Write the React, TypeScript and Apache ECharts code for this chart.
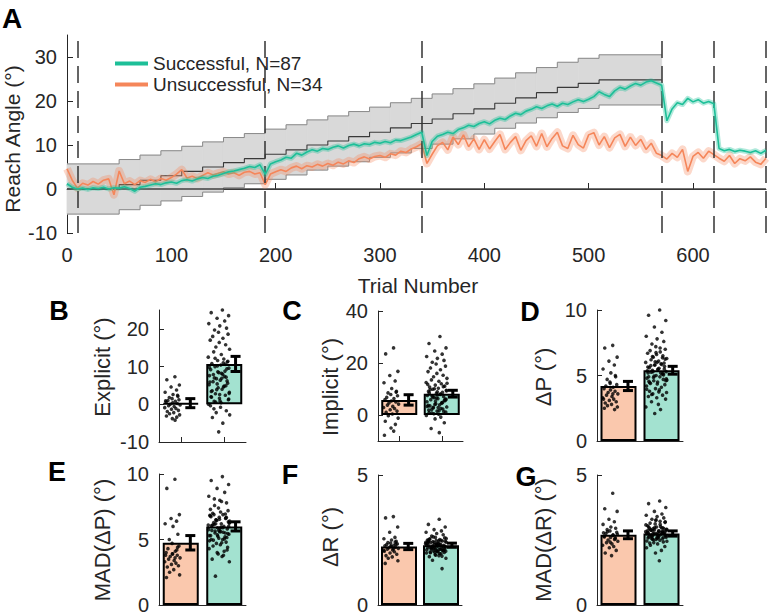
import React, { useEffect, useRef } from 'react';
import * as echarts from 'echarts';

const FONT = '"Liberation Sans", Arial, Helvetica, sans-serif';
const GREEN = '#1dbf98';
const ORANGE = '#f5865a';
const GREEN_LIGHT = '#a3e2d0';
const ORANGE_LIGHT = '#fac8ad';
const AXIS = '#262626';

// ---------- Panel A ----------
const trialStep = 5;
const successful = [
  1.2, 0.4, 0.0, 0.2, -0.1, 0.3, 0.1, 0.4, 0.0, 0.3,
  0.2, 0.5, 0.1, -0.5, 0.4, 0.6, 0.9, 1.2, 1.0, 1.4,
  1.6, 1.3, 1.9, 2.1, 1.8, 2.3, 2.6, 2.4, 2.9, 3.1,
  3.5, 3.9, 4.1, 4.4, 4.7, 5.1, 4.9, 5.5, 3.3, 5.7,
  6.2, 6.6, 7.2, 7.0, 8.1, 7.7, 8.4, 8.9, 8.6, 9.2,
  9.0, 9.5, 9.8, 9.3, 9.9, 10.2, 9.8, 10.3, 10.1, 10.6,
  10.4, 10.8, 10.5, 11.1, 11.0, 11.4, 11.8, 12.4, 12.9, 7.6,
  10.8, 12.0, 12.4, 12.9, 12.6, 13.5, 13.9, 14.5, 14.2, 14.9,
  15.3, 14.8, 15.6, 16.1, 15.8, 16.6, 17.2, 16.9, 17.7, 18.1,
  18.7, 18.3, 18.9, 19.3, 18.8, 19.5, 19.2, 19.8, 20.3, 19.9,
  20.4, 21.0, 22.1, 21.5, 21.0, 22.3, 23.1, 22.7, 23.4, 24.0,
  23.6, 24.3, 24.6, 24.1, 23.6, 15.5, 18.2, 19.6, 19.2, 20.6,
  19.8, 20.3, 19.5, 19.9, 19.4, 9.2, 8.7, 9.0, 8.5, 8.8,
  8.6, 8.3, 8.7, 8.1, 8.8,
];
const unsuccessful = [
  4.6, 2.0, 0.2, 1.3, 0.9, 1.7, 1.1, 2.0, 2.3, -1.3,
  4.1, 1.2, 1.8, 1.0, 1.9, 1.5, 2.2, 1.6, 2.4, 2.0,
  2.6, 3.4, 4.4, 2.5, 2.9, 2.4, 3.1, 3.7, 3.2, 3.6,
  3.9, 3.4, 3.7, 3.1, 3.8, 4.0, 3.4, 3.7, 1.0, 3.4,
  3.9, 4.4, 4.0, 4.8, 5.2, 4.6, 5.3, 5.0, 5.6, 5.2,
  5.8, 5.4, 6.1, 5.7, 6.4, 6.0, 6.9, 7.3, 6.8, 7.4,
  7.6, 7.2, 8.0, 7.7, 8.6, 8.3, 9.1, 9.6, 10.3, 5.8,
  7.9, 9.8, 10.6, 8.9, 11.8, 10.1, 12.3, 9.6, 11.4, 9.0,
  11.2, 9.1, 10.8, 12.4, 9.0, 10.6, 11.9, 8.8, 11.0, 12.1,
  9.7, 12.6, 9.6, 11.5, 12.9, 9.8, 9.2, 12.2, 10.1, 9.3,
  12.3, 12.8, 10.0, 11.9, 9.4, 11.6, 12.4, 9.7, 11.8, 9.9,
  11.3, 9.0, 10.4, 8.1, 7.6, 6.8, 8.1, 7.2, 9.0, 4.0,
  7.4, 8.3, 7.0, 8.6, 7.8, 7.0, 6.3, 7.6, 5.8, 6.9,
  6.4, 7.3, 6.1, 5.6, 7.0,
];
const stepTrials = [0, 50, 70, 90, 110, 130, 150, 170, 190, 210, 230, 250, 270, 290, 310, 330, 350, 370, 390, 410, 430, 450, 470, 490, 510, 570];
const targetCenter = [0, 1, 2, 3, 4, 5, 6, 6.9, 7.9, 8.9, 10, 10.9, 11.9, 12.9, 13.9, 14.9, 15.9, 17.1, 18.2, 19.5, 20.7, 21.9, 23.1, 24.0, 24.8, 24.8];
const bandUpper = [5.7, 6.7, 7.7, 8.7, 9.7, 10.7, 11.7, 12.6, 13.6, 14.6, 15.7, 16.6, 17.6, 18.6, 19.6, 20.6, 21.6, 22.8, 23.9, 25.2, 26.4, 27.6, 28.8, 29.7, 30.5, 30.5];
const bandLower = [-5.7, -4.7, -3.7, -2.7, -1.7, -0.7, 0.3, 1.2, 2.2, 3.2, 4.3, 5.2, 6.2, 7.2, 8.2, 9.2, 10.2, 11.4, 12.5, 13.8, 15.0, 16.2, 17.4, 18.3, 19.1, 19.1];
const dashTrials = [10, 190, 340, 570, 620, 670];
const xTicksA = [0, 100, 200, 300, 400, 500, 600];
const yTicksA = [-10, 0, 10, 20, 30];

// ---------- Bar panels ----------
const jitter = [0.31, -0.72, 0.88, -0.18, 0.52, -0.94, 0.07, 0.69, -0.41, -0.05, 0.83, -0.58, 0.36, -0.81, 0.02, 0.61, -0.29, 0.97, -0.49, 0.21, -0.99, 0.44, -0.13, 0.76, -0.66, 0.16, -0.37, 0.91, -0.77, 0.55, -0.02, 0.33, -0.88, 0.65,
  -0.24, 0.12, -0.55, 0.79, -0.91, 0.47, -0.08, 0.28, -0.63, 0.95, -0.33, 0.58, -0.74, 0.04, 0.86, -0.45, 0.19, -0.97, 0.39, -0.15, 0.72, -0.52, 0.25, -0.84, 0.63, -0.21, 0.93, -0.69, 0.09, -0.36, 0.81, -0.11, 0.49, -0.79, 0.14, -0.47, 0.67, -0.26, 0.98, -0.61, 0.35, -0.03, 0.57, -0.89, 0.23, -0.43, 0.74, -0.17, 0.41, -0.71, 0.06, 0.89, -0.31];

const explicitUns = [7.3, 6.5, 5.1, 4.6, 3.8, 3.2, 2.6, 2.1, 1.8, 1.5, 1.2, 1.0, 0.8, 0.6, 0.4, 0.2, 0.0, -0.2, -0.4, -0.6, -0.9, -1.1, -1.3, -1.6, -1.9, -2.2, -2.5, -2.8, -3.1, -3.4, -3.8, -4.2, 0.9, 2.4];
const explicitSuc = [25, 24.3, 23.5, 22.8, 22.1, 21.4, 20.8, 20.2, 19.7, 19.1, 18.6, 18.0, 17.5, 17.0, 16.4, 15.8, 15.2, 14.6, 13.9, 13.2,
  12.5, 12.0, 11.6, 11.2, 10.8, 10.4, 10.0, 9.6, 9.2, 8.8, 8.4, 8.0, 7.6, 7.2, 6.8, 6.4, 6.0, 5.6, 5.2, 4.8, 4.4, 4.0, 3.6, 3.2, 2.8, 2.4, 2.0, 1.6, 1.2, 0.8, 0.4, 0.0,
  11.0, 10.2, 9.4, 7.9, 6.9, 5.9, 4.9, 3.9, 2.9, 1.9, 0.9, 12.2, 11.4, 8.6, 7.4,
  -0.4, -0.8, -1.2, -1.7, -2.2, -2.8, -3.5, -5.0, -7.3,
  10.6, 9.8, 8.2, 7.0, 6.2, 5.4, 4.6, 3.4, 2.6, 1.4, 0.6];
const implicitUns = [25.8, 23.5, 16.8, 15.2, 13.1, 12.4, 10.2, 9.1, 8.5, 7.9, 7.4, 6.8, 6.3, 5.9, 5.4, 5.0, 4.6, 4.2, 3.8, 3.3, 2.9, 2.5, 2.0, 1.5, 1.0, 0.4, -0.3, -1.2, -2.4, -3.6, -5.0, -6.2, -7.8, 8.8];
const implicitSuc = [30.2, 27.5, 25.8, 24.6, 23.4, 22.5, 21.8, 21.0, 20.3, 19.6, 18.8, 18.1, 17.4, 16.7, 16.0, 15.3, 14.7, 14.1, 13.5, 13.0,
  12.5, 12.0, 11.5, 11.1, 10.7, 10.3, 9.9, 9.5, 9.1, 8.7, 8.3, 7.9, 7.5, 7.1, 6.7, 6.3, 5.9, 5.5, 5.1, 4.7, 4.3, 3.9, 3.5, 3.1, 2.7, 2.3, 1.9, 1.5, 1.1, 0.7, 0.3,
  -0.2, -0.8, -1.5, -3.0, -5.2, -6.8, 11.8, 10.9, 10.1, 9.3, 8.5, 7.7, 6.9, 6.1, 5.3, 4.5, 3.7, 2.9, 2.1, 1.3, 0.5,
  12.2, 9.7, 8.1, 6.5, 4.9, 3.3, 1.7, 7.3, 5.7, 4.1, 2.5, 0.9, 8.9, 6.0, 3.0];
const dPUns = [7.3, 7.1, 6.4, 6.1, 5.8, 5.5, 5.2, 4.9, 4.7, 4.5, 4.3, 4.2, 4.1, 4.0, 3.9, 3.8, 3.7, 3.6, 3.5, 3.4, 3.3, 3.2, 3.1, 3.0, 2.9, 2.8, 2.7, 2.6, 2.5, 2.4, 4.4, 3.6, 3.2, 5.0];
const dPSuc = [10.0, 9.6, 9.2, 8.7, 8.3, 8.0, 7.8, 7.6, 7.4, 7.2, 7.0, 6.9, 6.8, 6.7, 6.6, 6.5, 6.4, 6.3, 6.2, 6.1, 6.0, 5.9, 5.8, 5.7, 5.6, 5.5, 5.4, 5.3, 5.2, 5.1,
  5.0, 4.9, 4.8, 4.7, 4.6, 4.5, 4.4, 4.3, 4.2, 4.1, 4.0, 3.9, 3.8, 3.7, 3.6, 3.5, 3.4, 3.3, 3.2, 3.0, 2.8, 2.6, 2.4, 2.1,
  5.95, 5.75, 5.55, 5.35, 5.15, 4.95, 4.75, 4.55, 4.35, 6.45, 6.25, 6.05, 5.85, 5.65, 5.45, 5.25, 5.05, 4.85, 4.65, 4.45,
  7.1, 6.75, 6.35, 3.95, 3.75, 3.55, 5.5, 5.8, 5.2, 4.9, 6.0, 4.6, 5.3];
const madPUns = [9.6, 8.9, 6.9, 6.6, 6.4, 6.2, 6.0, 5.4, 5.0, 4.7, 4.5, 4.3, 4.1, 4.0, 3.9, 3.8, 3.7, 3.6, 3.5, 3.4, 3.3, 3.2, 3.1, 3.0, 2.9, 2.7, 2.5, 2.3, 2.1, 4.2, 3.9, 3.6, 3.8, 4.4];
const madPSuc = [9.8, 9.5, 9.2, 8.9, 8.6, 8.3, 8.0, 7.8, 7.6, 7.4, 7.2, 7.0, 6.9, 6.8, 6.7, 6.6, 6.5, 6.4, 6.3, 6.2, 6.1, 6.0, 5.9, 5.8, 5.7, 5.6, 5.5, 5.4, 5.3, 5.2,
  5.1, 5.0, 4.9, 4.8, 4.7, 4.6, 4.5, 4.4, 4.3, 4.1, 3.9, 3.7, 3.5, 3.3, 2.2,
  6.95, 6.75, 6.55, 6.35, 6.15, 5.95, 5.75, 5.55, 5.35, 5.15, 4.95, 4.75, 6.85, 6.65, 6.45, 6.25, 6.05, 5.85, 5.65, 5.45, 5.25, 5.05,
  7.3, 7.1, 6.9, 6.7, 6.5, 6.3, 6.1, 5.9, 5.7, 5.5, 5.3, 7.9, 8.1, 4.2, 4.0, 3.8, 5.0, 5.6, 6.0, 6.2];
const dRUns = [3.4, 3.35, 3.0, 2.8, 2.6, 2.55, 2.5, 2.45, 2.4, 2.38, 2.35, 2.32, 2.3, 2.28, 2.25, 2.22, 2.2, 2.18, 2.15, 2.12, 2.1, 2.05, 2.0, 1.95, 1.9, 1.85, 1.8, 1.7, 1.6, 2.42, 2.27, 2.17, 2.07, 2.33];
const dRSuc = [3.3, 3.1, 3.0, 2.9, 2.85, 2.8, 2.75, 2.7, 2.65, 2.6, 2.58, 2.55, 2.52, 2.5, 2.48, 2.46, 2.44, 2.42, 2.4, 2.38, 2.36, 2.34, 2.32, 2.3, 2.28,
  2.26, 2.24, 2.22, 2.2, 2.18, 2.16, 2.14, 2.12, 2.1, 2.08, 2.06, 2.04, 2.02, 2.0, 1.97, 1.94, 1.9, 1.86, 1.8, 1.72, 1.4,
  2.45, 2.35, 2.25, 2.15, 2.05, 2.41, 2.31, 2.21, 2.11, 2.01, 2.47, 2.37, 2.27, 2.17, 2.07, 2.43, 2.33, 2.23, 2.13, 2.03, 2.49, 2.39, 2.29, 2.19, 2.09,
  2.62, 2.56, 2.53, 1.98, 1.92, 1.88, 2.3, 2.35, 2.2, 2.25, 2.4, 2.15, 2.5, 2.1, 2.45, 2.28];
const madRUns = [4.3, 3.7, 3.6, 3.3, 3.2, 3.1, 3.0, 2.95, 2.9, 2.85, 2.8, 2.75, 2.7, 2.65, 2.6, 2.55, 2.5, 2.45, 2.4, 2.35, 2.3, 2.25, 2.2, 2.1, 2.0, 1.9, 2.82, 2.72, 2.62, 2.52, 2.42, 2.68, 2.78, 2.58];
const madRSuc = [4.0, 3.9, 3.75, 3.6, 3.5, 3.45, 3.4, 3.35, 3.3, 3.25, 3.2, 3.15, 3.1, 3.05, 3.0, 2.97, 2.94, 2.91, 2.88, 2.85, 2.82, 2.79, 2.76, 2.73, 2.7,
  2.67, 2.64, 2.61, 2.58, 2.55, 2.52, 2.49, 2.46, 2.43, 2.4, 2.35, 2.3, 2.25, 2.2, 2.1, 2.0, 1.7,
  2.95, 2.9, 2.86, 2.81, 2.77, 2.72, 2.68, 2.63, 2.59, 3.08, 3.02, 2.98, 2.93, 2.89, 2.84, 2.8, 2.75, 2.71, 2.66, 2.62, 2.57, 2.53,
  3.18, 3.12, 2.96, 2.87, 2.78, 2.69, 2.6, 2.51, 2.45, 2.38, 3.22, 3.28, 2.83, 2.74, 2.65, 2.56, 2.8, 2.9, 2.7, 3.0, 2.6, 2.85, 2.75];

// bar means [unsuccessful, successful] and SEM
const explicitMean = [0.3, 10.7];
const explicitSem = [1.2, 2.0];
const implicitMean = [5.8, 8.2];
const implicitSem = [2.0, 1.3];
const dPMean = [4.2, 5.4];
const dPSem = [0.35, 0.3];
const madPMean = [4.75, 6.0];
const madPSem = [0.55, 0.35];
const dRMean = [2.25, 2.3];
const dRSem = [0.12, 0.08];
const madRMean = [2.7, 2.75];
const madRSem = [0.15, 0.1];

const panels = [
  { letter: 'B', title: 'Explicit (°)', uns: explicitUns, suc: explicitSuc, mean: explicitMean, sem: explicitSem, min: -10, max: 25, ticks: [-10, 0, 10, 20],
    grid: { left: 159, top: 310, width: 87, height: 132 }, letterPos: [59, 311], titlePos: [102, 367] },
  { letter: 'C', title: 'Implicit (°)', uns: implicitUns, suc: implicitSuc, mean: implicitMean, sem: implicitSem, min: -10, max: 40, ticks: [0, 20, 40],
    grid: { left: 378, top: 311, width: 85, height: 130 }, letterPos: [292, 311], titlePos: [330, 387] },
  { letter: 'D', title: 'ΔP (°)', uns: dPUns, suc: dPSuc, mean: dPMean, sem: dPSem, min: 0, max: 10, ticks: [0, 5, 10],
    grid: { left: 597, top: 310, width: 86, height: 131 }, letterPos: [530, 312], titlePos: [543, 377] },
  { letter: 'E', title: 'MAD(ΔP) (°)', uns: madPUns, suc: madPSuc, mean: madPMean, sem: madPSem, min: 0, max: 10, ticks: [0, 5, 10],
    grid: { left: 159, top: 474, width: 87, height: 131 }, letterPos: [57, 472], titlePos: [102, 540] },
  { letter: 'F', title: 'ΔR (°)', uns: dRUns, suc: dRSuc, mean: dRMean, sem: dRSem, min: 0, max: 5, ticks: [0, 5],
    grid: { left: 378, top: 475, width: 84, height: 130 }, letterPos: [290, 475], titlePos: [330, 537] },
  { letter: 'G', title: 'MAD(ΔR) (°)', uns: madRUns, suc: madRSuc, mean: madRMean, sem: madRSem, min: 0, max: 5, ticks: [0, 5],
    grid: { left: 597, top: 475, width: 86, height: 130 }, letterPos: [526, 477], titlePos: [543, 540] },
];

function buildOption() {
  const trials = successful.map((_, i) => i * trialStep);
  const grids: any[] = [{ left: 67, top: 35, width: 699, height: 198 }];
  const xAxes: any[] = [{
    gridIndex: 0, type: 'value', min: 0, max: 670,
    axisLine: { show: true, lineStyle: { color: AXIS, width: 1 } },
    axisTick: { show: true, inside: true, length: 6, customValues: xTicksA, lineStyle: { color: AXIS } },
    axisLabel: { customValues: xTicksA, fontSize: 20, color: AXIS, margin: 12, fontFamily: FONT },
    splitLine: { show: false },
  }];
  const yAxes: any[] = [{
    gridIndex: 0, type: 'value', min: -10, max: 35,
    axisLine: { show: true, lineStyle: { color: AXIS, width: 1 } },
    axisTick: { show: true, inside: true, length: 6, customValues: yTicksA, lineStyle: { color: AXIS } },
    axisLabel: { customValues: yTicksA, fontSize: 20, color: AXIS, margin: 10, fontFamily: FONT },
    splitLine: { show: false },
  }];
  const series: any[] = [];

  // target band: one rectangle per staircase segment
  series.push({
    type: 'custom', xAxisIndex: 0, yAxisIndex: 0, silent: true, z: 1,
    data: stepTrials.slice(0, -1).map((t, i) => [t, stepTrials[i + 1], bandLower[i], bandUpper[i]]),
    encode: { x: [0, 1], y: [2, 3] },
    renderItem: (params: any, api: any) => {
      const p0 = api.coord([api.value(0), api.value(3)]);
      const p1 = api.coord([api.value(1), api.value(2)]);
      return {
        type: 'rect',
        shape: { x: p0[0], y: p0[1], width: p1[0] - p0[0], height: p1[1] - p0[1] },
        style: { fill: '#d9d9d9', stroke: '#d9d9d9', lineWidth: 0.8 },
      };
    },
  });
  series.push({
    type: 'line', xAxisIndex: 0, yAxisIndex: 0, data: stepTrials.map((t, i) => [t, bandUpper[i]]), step: 'end',
    symbol: 'none', silent: true, lineStyle: { color: '#8a8a8a', width: 1 }, z: 2,
  });
  series.push({
    type: 'line', xAxisIndex: 0, yAxisIndex: 0, data: stepTrials.map((t, i) => [t, bandLower[i]]), step: 'end',
    symbol: 'none', silent: true, lineStyle: { color: '#8a8a8a', width: 1 }, z: 2,
  });
  series.push({
    type: 'line', xAxisIndex: 0, yAxisIndex: 0, data: stepTrials.map((t, i) => [t, targetCenter[i]]), step: 'end',
    symbol: 'none', silent: true, lineStyle: { color: '#3a3a3a', width: 1.1 }, z: 2,
  });
  series.push({
    type: 'line', xAxisIndex: 0, yAxisIndex: 0, data: [[0, 0], [670, 0]], symbol: 'none', silent: true,
    lineStyle: { color: '#404040', width: 1.5 }, z: 2,
    markLine: {
      silent: true, symbol: ['none', 'none'], label: { show: false },
      lineStyle: { color: '#333', type: [17, 8], width: 1.5 },
      data: dashTrials.map((t) => ({ xAxis: t })),
    },
  });
  const orangePts = unsuccessful.map((v, i) => [trials[i], v]);
  const greenPts = successful.map((v, i) => [trials[i], v]);
  series.push({ type: 'line', xAxisIndex: 0, yAxisIndex: 0, data: orangePts, symbol: 'none', silent: true,
    lineStyle: { color: ORANGE, width: 8, opacity: 0.32, join: 'round' }, z: 3 });
  series.push({ name: 'Unsuccessful, N=34', type: 'line', xAxisIndex: 0, yAxisIndex: 0, data: orangePts, symbol: 'none',
    lineStyle: { color: ORANGE, width: 1.6 }, itemStyle: { color: ORANGE }, z: 4 });
  series.push({ type: 'line', xAxisIndex: 0, yAxisIndex: 0, data: greenPts, symbol: 'none', silent: true,
    lineStyle: { color: GREEN, width: 5, opacity: 0.35, join: 'round' }, z: 5 });
  series.push({ name: 'Successful, N=87', type: 'line', xAxisIndex: 0, yAxisIndex: 0, data: greenPts, symbol: 'none',
    lineStyle: { color: GREEN, width: 1.6 }, itemStyle: { color: GREEN }, z: 6 });

  const graphics: any[] = [
    { type: 'text', left: 2, top: 4, style: { text: 'A', font: `bold 28px ${FONT}`, fill: '#000' } },
    { type: 'text', x: 12, y: 139, rotation: Math.PI / 2, style: { text: 'Reach Angle (°)', font: `21px ${FONT}`, fill: AXIS, align: 'center', verticalAlign: 'middle' } },
    { type: 'text', x: 418, y: 285, style: { text: 'Trial Number', font: `21px ${FONT}`, fill: AXIS, align: 'center', verticalAlign: 'middle' } },
  ];

  panels.forEach((p, k) => {
    const gi = k + 1;
    grids.push(p.grid);
    xAxes.push({
      gridIndex: gi, type: 'value', min: 0.5, max: 2.5,
      axisLine: { show: true, onZero: false, lineStyle: { color: AXIS, width: 1 } },
      axisTick: { show: true, inside: true, length: 5, customValues: [1, 2], lineStyle: { color: AXIS } },
      axisLabel: { show: false },
      splitLine: { show: false },
    });
    yAxes.push({
      gridIndex: gi, type: 'value', min: p.min, max: p.max,
      axisLine: { show: true, lineStyle: { color: AXIS, width: 1 } },
      axisTick: { show: true, inside: true, length: 5, customValues: p.ticks, lineStyle: { color: AXIS } },
      axisLabel: { customValues: p.ticks, fontSize: 20, color: AXIS, margin: 10, fontFamily: FONT },
      splitLine: { show: false },
    });
    series.push({
      type: 'bar', xAxisIndex: gi, yAxisIndex: gi, barWidth: 36, silent: true, z: 2,
      data: [
        { value: [1, p.mean[0]], itemStyle: { color: ORANGE_LIGHT, borderColor: '#000', borderWidth: 2 } },
        { value: [2, p.mean[1]], itemStyle: { color: GREEN_LIGHT, borderColor: '#000', borderWidth: 2 } },
      ],
    });
    series.push({
      type: 'scatter', xAxisIndex: gi, yAxisIndex: gi, symbolSize: 3.6, silent: true, z: 3,
      itemStyle: { color: '#000' },
      data: p.uns.map((v, i) => [1 - 0.19 + jitter[i] * 0.18, v]),
    });
    series.push({
      type: 'scatter', xAxisIndex: gi, yAxisIndex: gi, symbolSize: 3.6, silent: true, z: 3,
      itemStyle: { color: '#000' },
      data: p.suc.map((v, i) => [2 - 0.12 + jitter[i] * 0.25, v]),
    });
    series.push({
      type: 'custom', xAxisIndex: gi, yAxisIndex: gi, silent: true, z: 4,
      data: [[1.22, p.mean[0] - p.sem[0], p.mean[0] + p.sem[0]], [2.26, p.mean[1] - p.sem[1], p.mean[1] + p.sem[1]]],
      encode: { x: 0, y: [1, 2] },
      renderItem: (params: any, api: any) => {
        const x = api.value(0);
        const lo = api.coord([x, api.value(1)]);
        const hi = api.coord([x, api.value(2)]);
        const cap = 5;
        const st = { stroke: '#000', lineWidth: 3 };
        return {
          type: 'group',
          children: [
            { type: 'line', shape: { x1: lo[0], y1: lo[1], x2: hi[0], y2: hi[1] }, style: st },
            { type: 'line', shape: { x1: lo[0] - cap, y1: lo[1], x2: lo[0] + cap, y2: lo[1] }, style: st },
            { type: 'line', shape: { x1: hi[0] - cap, y1: hi[1], x2: hi[0] + cap, y2: hi[1] }, style: st },
          ],
        };
      },
    });
    graphics.push({ type: 'text', x: p.letterPos[0], y: p.letterPos[1], style: { text: p.letter, font: `bold 27px ${FONT}`, fill: '#000', align: 'center', verticalAlign: 'middle' } });
    graphics.push({ type: 'text', x: p.titlePos[0], y: p.titlePos[1], rotation: Math.PI / 2, style: { text: p.title, font: `22px ${FONT}`, fill: AXIS, align: 'center', verticalAlign: 'middle' } });
  });

  return {
    animation: false,
    backgroundColor: '#fff',
    textStyle: { fontFamily: FONT },
    grid: grids,
    xAxis: xAxes,
    yAxis: yAxes,
    legend: {
      data: [
        { name: 'Successful, N=87', icon: 'rect' },
        { name: 'Unsuccessful, N=34', icon: 'rect' },
      ],
      orient: 'vertical', left: 110, top: 49, itemWidth: 33, itemHeight: 4, itemGap: 2,
      textStyle: { fontSize: 19, color: AXIS, fontFamily: FONT }, selectedMode: false,
    },
    graphic: graphics,
    series,
  };
}

export default function App() {
  const ref = useRef<HTMLDivElement>(null);
  useEffect(() => {
    const chart = echarts.init(ref.current!, null, { renderer: 'svg' });
    chart.setOption(buildOption() as any);
    return () => chart.dispose();
  }, []);
  return <div ref={ref} style={{ position: 'fixed', left: 0, top: 0, width: 770, height: 616 }} />;
}
